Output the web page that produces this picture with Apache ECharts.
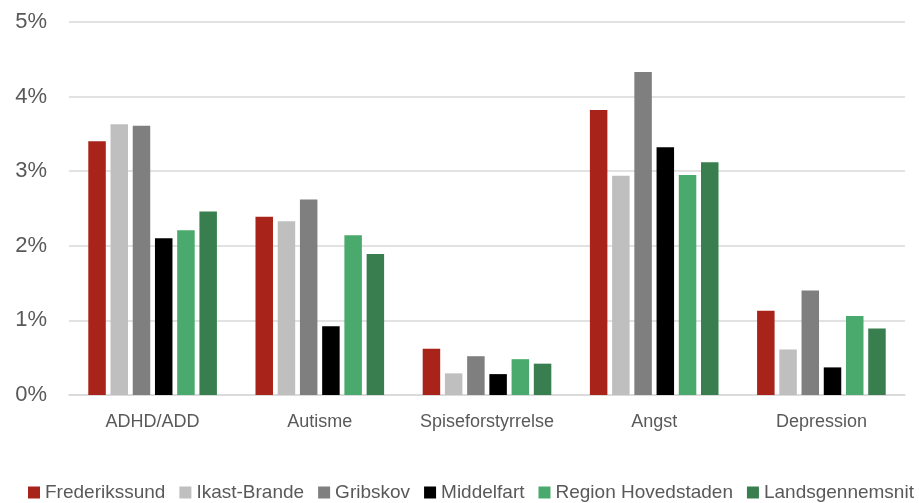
<!DOCTYPE html>
<html>
<head>
<meta charset="utf-8">
<script src="https://cdn.jsdelivr.net/npm/echarts@6/dist/echarts.min.js"></script>
<style>
  html, body { margin: 0; padding: 0; background: #fff; }
  #chart { width: 919px; height: 503px; }
</style>
</head>
<body>
<div id="chart"></div>
<script>
// data (share of children, %)
const categories = ['ADHD/ADD', 'Autisme', 'Spiseforstyrrelse', 'Angst', 'Depression'];
const seriesNames = ['Frederikssund', 'Ikast-Brande', 'Gribskov', 'Middelfart', 'Region Hovedstaden', 'Landsgennemsnit'];
const frederikssund = [3.40, 2.39, 0.62, 3.82, 1.13];
const ikastBrande = [3.63, 2.33, 0.29, 2.94, 0.61];
const gribskov = [3.61, 2.62, 0.52, 4.33, 1.40];
const middelfart = [2.10, 0.92, 0.28, 3.32, 0.37];
const regionHovedstaden = [2.21, 2.14, 0.48, 2.95, 1.06];
const landsgennemsnit = [2.46, 1.89, 0.42, 3.12, 0.89];
const yTicks = [0, 1, 2, 3, 4, 5];

const colors = ['#A8231A', '#BFBFBF', '#7F7F7F', '#000000', '#4AA96C', '#387E4F'];
const values = [frederikssund, ikastBrande, gribskov, middelfart, regionHovedstaden, landsgennemsnit];

const chart = echarts.init(document.getElementById('chart'));
const labelFont = '"Liberation Sans", Arial, sans-serif';

chart.setOption({
  animation: false,
  backgroundColor: '#fff',
  color: colors,
  grid: { left: 69, right: 14, top: 22, bottom: 108 },
  legend: {
    top: 483,
    left: 28,
    width: 900,
    padding: 0,
    itemWidth: 12,
    itemHeight: 12,
    itemGap: 14,
    icon: 'rect',
    textStyle: { color: '#595959', fontSize: 19, fontFamily: labelFont },
    data: seriesNames,
  },
  xAxis: {
    type: 'category',
    data: categories,
    axisLine: { lineStyle: { color: '#D9D9D9', width: 1.5 } },
    axisTick: { show: false },
    axisLabel: { color: '#595959', fontSize: 18, fontFamily: labelFont, margin: 18, interval: 0 },
  },
  yAxis: {
    type: 'value',
    min: yTicks[0],
    max: yTicks[yTicks.length - 1],
    interval: 1,
    axisLine: { show: false },
    axisTick: { show: false },
    splitLine: { lineStyle: { color: '#D9D9D9', width: 1.5 } },
    axisLabel: {
      color: '#595959',
      fontSize: 22,
      fontFamily: labelFont,
      margin: 22,
      formatter: (v) => v + '%',
    },
  },
  series: seriesNames.map((name, i) => ({
    name,
    type: 'bar',
    data: values[i],
    barWidth: 17.5,
    barGap: '27%',
    itemStyle: { color: colors[i] },
  })),
});
</script>
</body>
</html>
